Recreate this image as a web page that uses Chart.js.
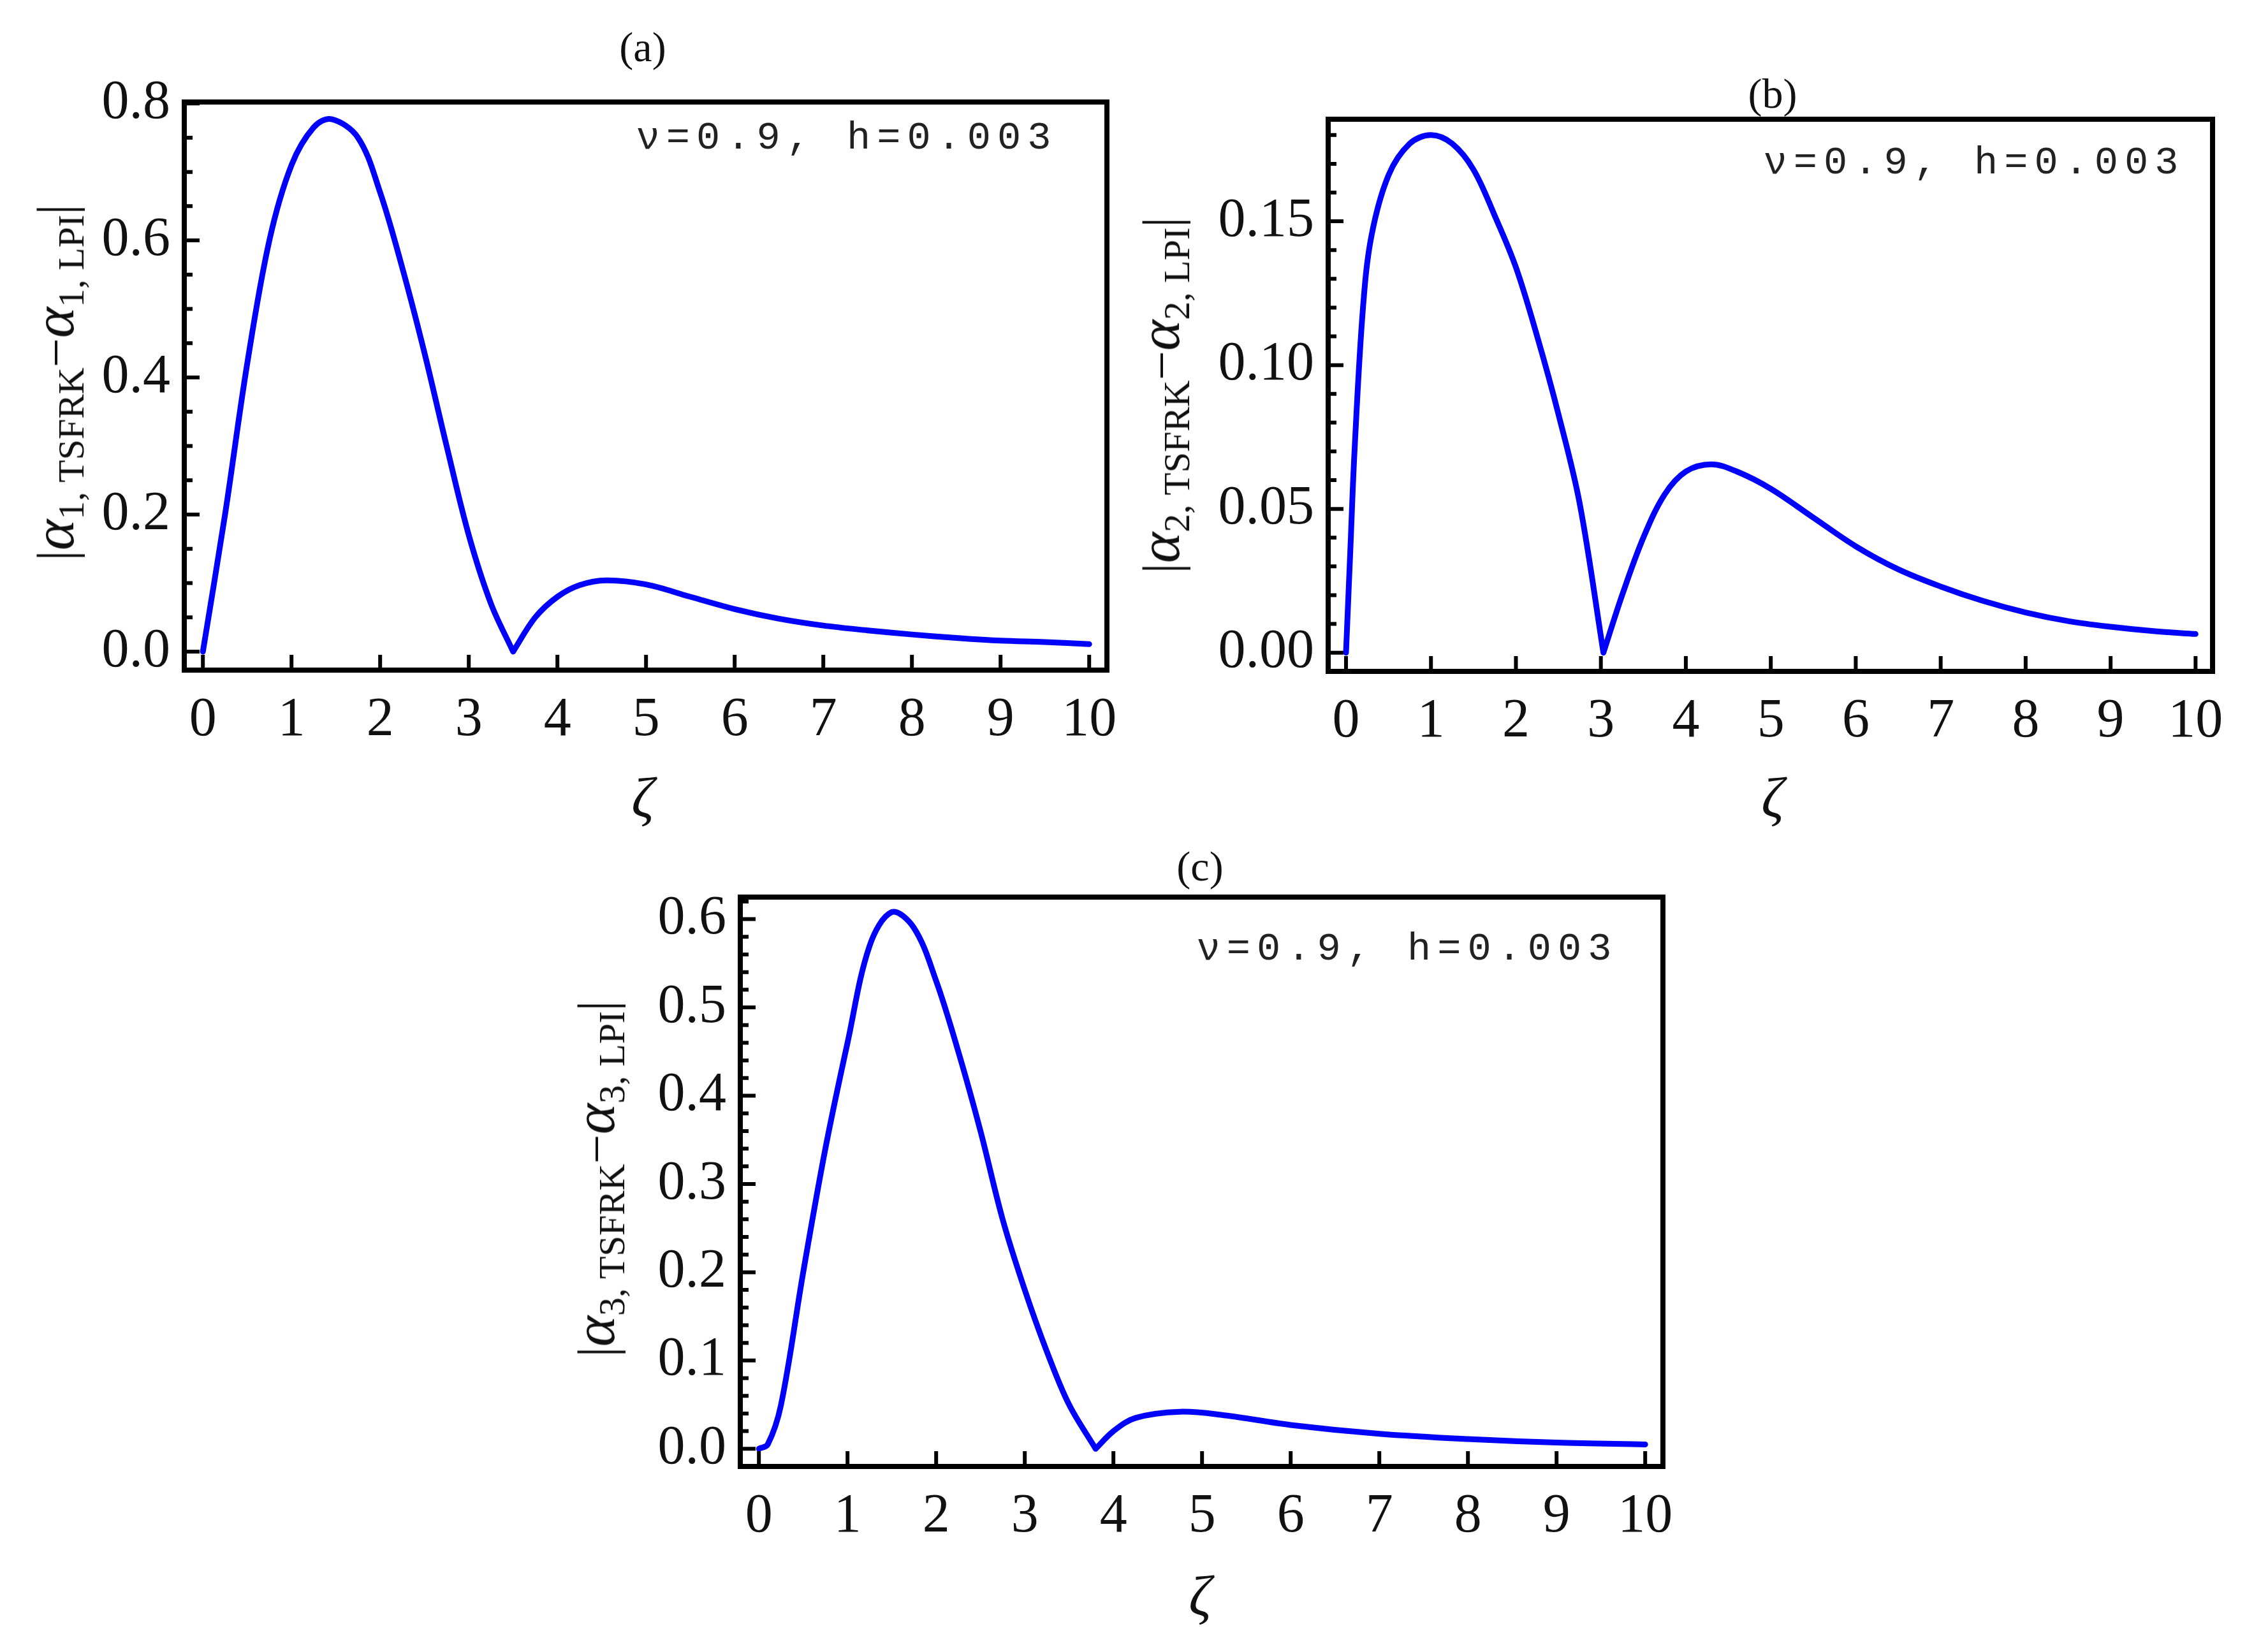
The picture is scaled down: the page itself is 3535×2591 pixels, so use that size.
<!DOCTYPE html>
<html><head><meta charset="utf-8">
<script src="https://cdn.jsdelivr.net/npm/chart.js@4"></script>
<style>
body{margin:0;width:3535px;height:2591px;background:#fff;position:relative;overflow:hidden;font-family:"Liberation Serif",serif;}
canvas{position:absolute;}
.t{position:absolute;font-size:66px;transform:translate(-50%,-50%);white-space:nowrap;color:#111;}
.z{position:absolute;font-size:88px;font-style:italic;transform:translate(-50%,-50%);color:#111;}
.yl{position:absolute;font-size:82px;white-space:nowrap;color:#111;transform:translate(-50%,-50%) rotate(-90deg);}
.yl i{font-size:92px;} .yl sub{font-size:58px;vertical-align:-16px;}
.an{position:absolute;font-family:"Liberation Mono",monospace;font-size:62px;letter-spacing:10px;transform:translate(-50%,-50%);white-space:nowrap;color:#222;}
</style></head><body>
<script>
const xA=[0,0.25,0.5,0.75,1,1.25,1.45,1.75,2,2.25,2.5,2.75,3,3.25,3.5,3.5,3.75,4,4.25,4.55,5,5.5,6,6.5,7,7.5,8,8.5,9,9.5,10];
const yA=[0,0.2,0.42,0.6,0.71,0.765,0.777,0.75,0.67,0.56,0.436,0.3,0.17,0.07,0.0,0.0,0.05,0.08,0.097,0.104,0.098,0.08,0.062,0.048,0.038,0.031,0.025,0.02,0.016,0.014,0.011];
const xB=[0,0.05,0.1,0.2,0.3,0.5,0.75,1,1.25,1.5,1.75,2,2.25,2.5,2.75,3.03,3.03,3.25,3.5,3.75,4,4.3,4.6,5,5.5,6,6.5,7,7.5,8,8.5,9,9.5,10];
const yB=[0,0.035,0.07,0.12,0.145,0.166,0.177,0.18,0.177,0.168,0.152,0.134,0.11,0.083,0.052,0.0,0.0,0.02,0.04,0.055,0.063,0.0655,0.063,0.057,0.047,0.037,0.029,0.023,0.018,0.014,0.011,0.009,0.0075,0.0065];
const xC=[0,0.1,0.25,0.5,0.75,1,1.25,1.5,1.75,2,2.25,2.5,2.75,3,3.25,3.5,3.8,3.8,4,4.25,4.75,5.25,6,7,8,9,10];
const yC=[0,0.005,0.05,0.2,0.34,0.46,0.57,0.608,0.59,0.53,0.45,0.36,0.26,0.18,0.11,0.05,0.0,0.0,0.02,0.035,0.042,0.038,0.027,0.017,0.011,0.007,0.005];
const xTicks=[0,1,2,3,4,5,6,7,8,9,10];
const yTicksA=[0,0.2,0.4,0.6,0.8], yTicksB=[0,0.05,0.1,0.15], yTicksC=[0,0.1,0.2,0.3,0.4,0.5,0.6];
const labelsA=["0.0","0.2","0.4","0.6","0.8"], labelsB=["0.00","0.05","0.10","0.15"], labelsC=["0.0","0.1","0.2","0.3","0.4","0.5","0.6"];

const YW=230, XH=150, M=70;
function make(box, xs, ys, yr, yt, yl, minorStep){
  const c=document.createElement('canvas');
  const W=box.r-box.l+YW+M, H=box.b-box.t+XH+M;
  c.width=W;c.height=H;c.style.width=W+'px';c.style.height=H+'px';
  c.style.left=(box.l-YW)+'px';c.style.top=(box.t-M)+'px';
  document.body.appendChild(c);
  const frame={id:'frame',afterDraw(ch){
    const g=ch.ctx,a=ch.chartArea,sx=ch.scales.x,sy=ch.scales.y;
    g.save();g.strokeStyle='#000';g.lineWidth=8;
    g.strokeRect(a.left,a.top,a.right-a.left,a.bottom-a.top);
    g.lineWidth=6;g.beginPath();
    xTicks.forEach(v=>{const p=sx.getPixelForValue(v);g.moveTo(p,a.bottom);g.lineTo(p,a.bottom-24);});
    const n=Math.round(yr[1]/minorStep);
    for(let i=0;i<=n;i++){const v=i*minorStep;const major=yt.some(t=>Math.abs(t-v)<1e-9);
      const p=sy.getPixelForValue(v);if(p<a.top)continue;g.moveTo(a.left,p);g.lineTo(a.left+(major?24:13),p);}
    g.stroke();g.restore();}};
  new Chart(c,{type:'line',data:{datasets:[{data:xs.map((x,i)=>({x,y:ys[i]})),borderColor:'#0000ff',borderWidth:9,pointRadius:0,tension:0.35,borderJoinStyle:'round',borderCapStyle:'round'}]},
   options:{responsive:false,animation:false,layout:{padding:{top:M,right:M,left:0,bottom:0}},plugins:{legend:{display:false},tooltip:{enabled:false}},
    scales:{x:{type:'linear',min:-0.21,max:10.2,afterFit(s){s.height=XH;},afterBuildTicks(s){s.ticks=xTicks.map(v=>({value:v}));},
        grid:{display:false},border:{display:false},ticks:{padding:20,color:'#111',font:{family:'Liberation Serif',size:86},callback:v=>String(v)}},
      y:{type:'linear',min:yr[0],max:yr[1],afterFit(s){s.width=YW;},afterBuildTicks(s){s.ticks=yt.map(v=>({value:v}));},
        grid:{display:false},border:{display:false},ticks:{padding:14,color:'#111',font:{family:'Liberation Serif',size:86},callback:(v)=>yl[yt.findIndex(t=>Math.abs(t-v)<1e-9)]}}}},
   plugins:[frame]});
}
make({l:289,r:1736,t:160,b:1051},xA,yA,[-0.027,0.802],yTicksA,labelsA,0.05);
make({l:2083,r:3470,t:187,b:1053},xB,yB,[-0.0065,0.1855],yTicksB,labelsB,0.01);
make({l:1161,r:2608,t:1407,b:2300},xC,yC,[-0.02,0.625],yTicksC,labelsC,0.02);
function txt(cls,html,x,y){const d=document.createElement('div');d.className=cls;d.innerHTML=html;d.style.left=x+'px';d.style.top=y+'px';document.body.appendChild(d);}
txt('t','(a)',1008,74);txt('t','(b)',2780,147);txt('t','(c)',1882,1359);
txt('z','ζ',1008,1251);txt('z','ζ',2780,1251);txt('z','ζ',1882,2503);
txt('an','ν=0.9, h=0.003',1328,216);txt('an','ν=0.9, h=0.003',3096,255);txt('an','ν=0.9, h=0.003',2207,1488);
[1,2,3].forEach((k,i)=>{const pos=[[88,600],[1822,620],[936,1849]][i];
 txt('yl','|<i>α</i><sub>'+k+', TSFRK</sub>−<i>α</i><sub>'+k+', LPI</sub>|',pos[0],pos[1]);});
</script></body></html>
